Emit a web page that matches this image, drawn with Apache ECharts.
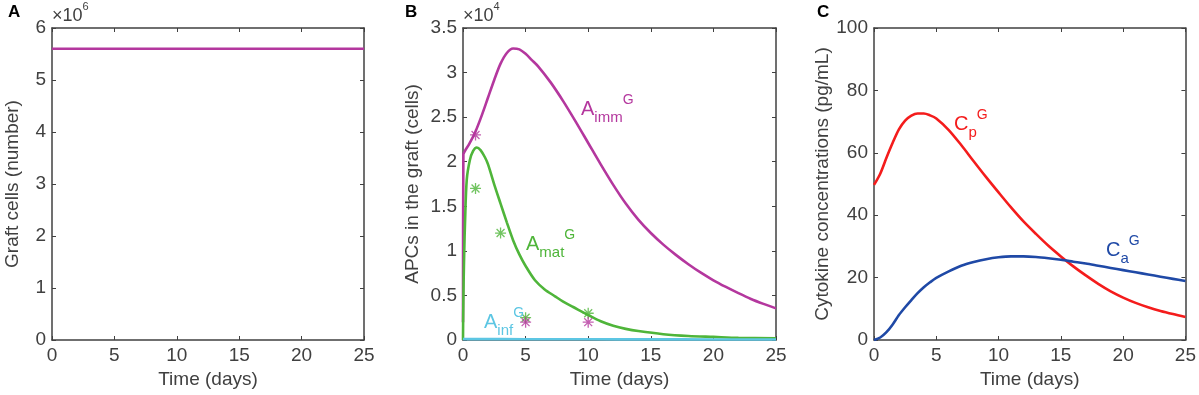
<!DOCTYPE html>
<html>
<head>
<meta charset="utf-8">
<script src="https://cdn.jsdelivr.net/npm/echarts@6/dist/echarts.min.js"></script>
<style>
html,body{margin:0;padding:0;background:#fff;}
#charts{width:1199px;height:395px;}
</style>
</head>
<body>
<div id="charts"></div>
<script>
// panel A : graft cells
var tGraft = [0, 25];
var graftCells = [5600000, 5600000];

// panel B : APCs in the graft (cells)
var tImm = [0, 0.03, 0.15, 0.5, 1, 1.5, 2, 2.5, 3, 3.5, 4, 4.5, 5, 5.5, 6, 7, 8, 9, 10, 11, 12, 13, 14, 15, 16, 17, 18, 19, 20, 21, 22, 23, 24, 25];
var aImm = [2000, 20800, 21200, 22000, 23400, 25200, 27200, 29200, 31000, 32200, 32700, 32600, 32100, 31400, 30700, 28900, 26800, 24500, 22100, 19700, 17400, 15300, 13500, 12000, 10700, 9550, 8500, 7550, 6700, 5950, 5250, 4600, 4050, 3550];
var tMat = [0, 0.01, 0.05, 0.1, 0.16, 0.3, 0.55, 0.8, 1.1, 1.4, 1.75, 2, 2.55, 3, 3.5, 4, 4.5, 5, 5.75, 6.5, 7.35, 8, 8.8, 10, 11, 12, 13, 14, 16, 18, 20, 22, 25];
var aMat = [0, 2000, 6500, 10000, 13100, 18000, 20200, 21200, 21600, 21300, 20500, 19700, 17200, 15300, 13200, 11200, 9600, 8300, 6700, 5700, 4900, 4300, 3700, 2800, 2100, 1600, 1250, 1000, 650, 450, 350, 250, 200];
var tInf = [0, 1, 5, 10, 15, 20, 25];
var aInf = [100, 100, 90, 80, 70, 60, 50];
// measured points (stars)
var tObs = [1, 5, 10];
var immObs = [23000, 2000, 2000];
var tObsMat = [1, 3, 5, 10];
var matObs = [17000, 12000, 2500, 3000];

// panel C : cytokine concentrations (pg/mL)
var tCyt = [0, 0.5, 1, 1.5, 2, 2.5, 3, 3.5, 4, 4.5, 5, 6, 7, 8, 9, 10, 11, 12, 13, 14, 15, 16, 17, 18, 19, 20, 21, 22, 23, 24, 25];
var cP = [49.7, 53.3, 58.4, 63.2, 67.5, 70.3, 71.9, 72.6, 72.6, 72, 71, 67.3, 62.5, 57.3, 52.2, 47.3, 42.5, 38, 34, 30.2, 26.8, 23.6, 20.7, 18.0, 15.6, 13.6, 11.9, 10.5, 9.3, 8.3, 7.4];
var cA = [0, 0.8, 2.5, 5, 8, 10.5, 12.8, 15, 16.9, 18.5, 19.9, 22, 23.8, 25, 25.9, 26.5, 26.8, 26.8, 26.6, 26.2, 25.7, 25.1, 24.5, 23.8, 23.1, 22.4, 21.7, 21, 20.3, 19.6, 18.9];

var FONT = "'Liberation Sans', Arial, Helvetica, sans-serif";
var AXC = '#404040';
var cImm = '#B4379E', cMat = '#4FB53A', cInf = '#5CC6E3', cRed = '#F41C1C', cBlue = '#1F49A6';
var STAR = 'path://M0,-5L0,5M-5,0L5,0M-3.6,-3.6L3.6,3.6M-3.6,3.6L3.6,-3.6';

function pairs(t, v){
	var out = [];
	for(var i=0;i<t.length;i++){
		out.push([t[i], v[i]]);
	}
	return out;
}

var grids = [
	{left:52, top:28, width:312, height:312},
	{left:463, top:28, width:313, height:312},
	{left:874, top:28, width:312, height:312}
];

var xAxes = [], yAxes = [];
for(var g=0;g<3;g++){
	xAxes.push({
		gridIndex:g, type:'value', min:0, max:25, interval:5,
		name:'Time (days)', nameLocation:'middle', nameGap:30,
		nameTextStyle:{fontFamily:FONT, fontSize:19, color:AXC},
		axisLine:{onZero:false, lineStyle:{color:AXC, width:1.5}},
		axisTick:{inside:true, length:4, lineStyle:{color:AXC}},
		axisLabel:{fontFamily:FONT, fontSize:19, color:AXC, margin:6},
		splitLine:{show:false}
	});
	// top frame
	xAxes.push({
		gridIndex:g, type:'value', min:0, max:25, interval:5, position:'top',
		axisLine:{onZero:false, lineStyle:{color:AXC, width:1.5}},
		axisTick:{inside:true, length:4, lineStyle:{color:AXC}},
		axisLabel:{show:false}, splitLine:{show:false}
	});
}

var yDefs = [
	{max:6000000, interval:1000000, name:'Graft cells (number)', gap:30, fmt:function(v){return v/1000000;}},
	{max:35000, interval:5000, name:'APCs in the graft (cells)', gap:41, fmt:function(v){return v/10000;}},
	{max:100, interval:20, name:'Cytokine concentrations (pg/mL)', gap:32, fmt:function(v){return v;}}
];
for(var k=0;k<3;k++){
	var d = yDefs[k];
	yAxes.push({
		gridIndex:k, type:'value', min:0, max:d.max, interval:d.interval,
		name:d.name, nameLocation:'middle', nameGap:d.gap,
		nameTextStyle:{fontFamily:FONT, fontSize:19, color:AXC},
		axisLine:{show:true, onZero:false, lineStyle:{color:AXC, width:1.5}},
		axisTick:{show:true, inside:true, length:4, lineStyle:{color:AXC}},
		axisLabel:{fontFamily:FONT, fontSize:19, color:AXC, margin:6, formatter:d.fmt},
		splitLine:{show:false}
	});
	// right frame
	yAxes.push({
		gridIndex:k, type:'value', min:0, max:d.max, interval:d.interval, position:'right',
		axisLine:{show:true, onZero:false, lineStyle:{color:AXC, width:1.5}},
		axisTick:{show:true, inside:true, length:4, lineStyle:{color:AXC}},
		axisLabel:{show:false}, splitLine:{show:false}
	});
}

function lineSeries(name, xi, yi, data, color){
	return {
		name:name, type:'line', xAxisIndex:xi, yAxisIndex:yi, data:data,
		showSymbol:false, symbol:'none', smooth:0.3, animation:false,
		lineStyle:{color:color, width:2.6}, z:3
	};
}
function starSeries(name, xi, yi, data, color){
	return {
		name:name, type:'scatter', xAxisIndex:xi, yAxisIndex:yi, data:data,
		symbol:STAR, symbolSize:11, animation:false,
		itemStyle:{color:'none', borderColor:color, borderWidth:1.3}, z:4
	};
}

// label with subscript and superscript, anchored at its top-left corner
function curveLabel(x, y, base, sub, sup, color){
	return {
		type:'text', left:x, top:y, z:10,
		style:{
			text:'{a|'+base+'}{b|'+sub+'}{c|'+sup+'}',
			fill:color,
			rich:{
				a:{fontFamily:FONT, fontSize:20, lineHeight:32, verticalAlign:'middle', fill:color},
				b:{fontFamily:FONT, fontSize:15, lineHeight:15, verticalAlign:'bottom', fill:color},
				c:{fontFamily:FONT, fontSize:14, lineHeight:14, verticalAlign:'top', fill:color}
			}
		}
	};
}
function scaleLabel(x, y, exp){
	return {
		type:'text', left:x, top:y,
		style:{
			text:'{a|×10}{b|'+exp+'}',
			rich:{
				a:{fontFamily:FONT, fontSize:18, lineHeight:24, verticalAlign:'bottom', fill:AXC},
				b:{fontFamily:FONT, fontSize:11, lineHeight:11, verticalAlign:'top', fill:AXC}
			}
		}
	};
}
function panelLetter(x, txt){
	return {
		type:'text', left:x, top:4,
		style:{text:txt, fontFamily:FONT, fontSize:17, fontWeight:'bold', fill:'#000'}
	};
}

var charts = echarts.init(document.getElementById('charts'), null, {renderer:'canvas'});
var option = {
	backgroundColor:'#fff',
	animation:false,
	grid:grids,
	xAxis:xAxes,
	yAxis:yAxes,
	series:[
		lineSeries('Graft', 0, 0, pairs(tGraft, graftCells), cImm),
		lineSeries('Aimm', 2, 2, pairs(tImm, aImm), cImm),
		lineSeries('Amat', 2, 2, pairs(tMat, aMat), cMat),
		lineSeries('Ainf', 2, 2, pairs(tInf, aInf), cInf),
		starSeries('Amat data', 2, 2, pairs(tObsMat, matObs), cMat),
		starSeries('Aimm data', 2, 2, pairs(tObs, immObs), cImm),
		lineSeries('Cp', 4, 4, pairs(tCyt, cP), cRed),
		lineSeries('Ca', 4, 4, pairs(tCyt, cA), cBlue)
	],
	graphic:[
		panelLetter(8, 'A'),
		panelLetter(405, 'B'),
		panelLetter(817, 'C'),
		scaleLabel(52, 1, '6'),
		scaleLabel(463, 1, '4'),
		curveLabel(581, 93, 'A', 'imm', 'G', cImm),
		curveLabel(526, 228, 'A', 'mat', 'G', cMat),
		curveLabel(484, 306, 'A', 'inf', 'G', cInf),
		curveLabel(954, 108, 'C', 'p', 'G', cRed),
		curveLabel(1106, 234, 'C', 'a', 'G', cBlue)
	]
};
charts.setOption(option);
</script>
</body>
</html>
